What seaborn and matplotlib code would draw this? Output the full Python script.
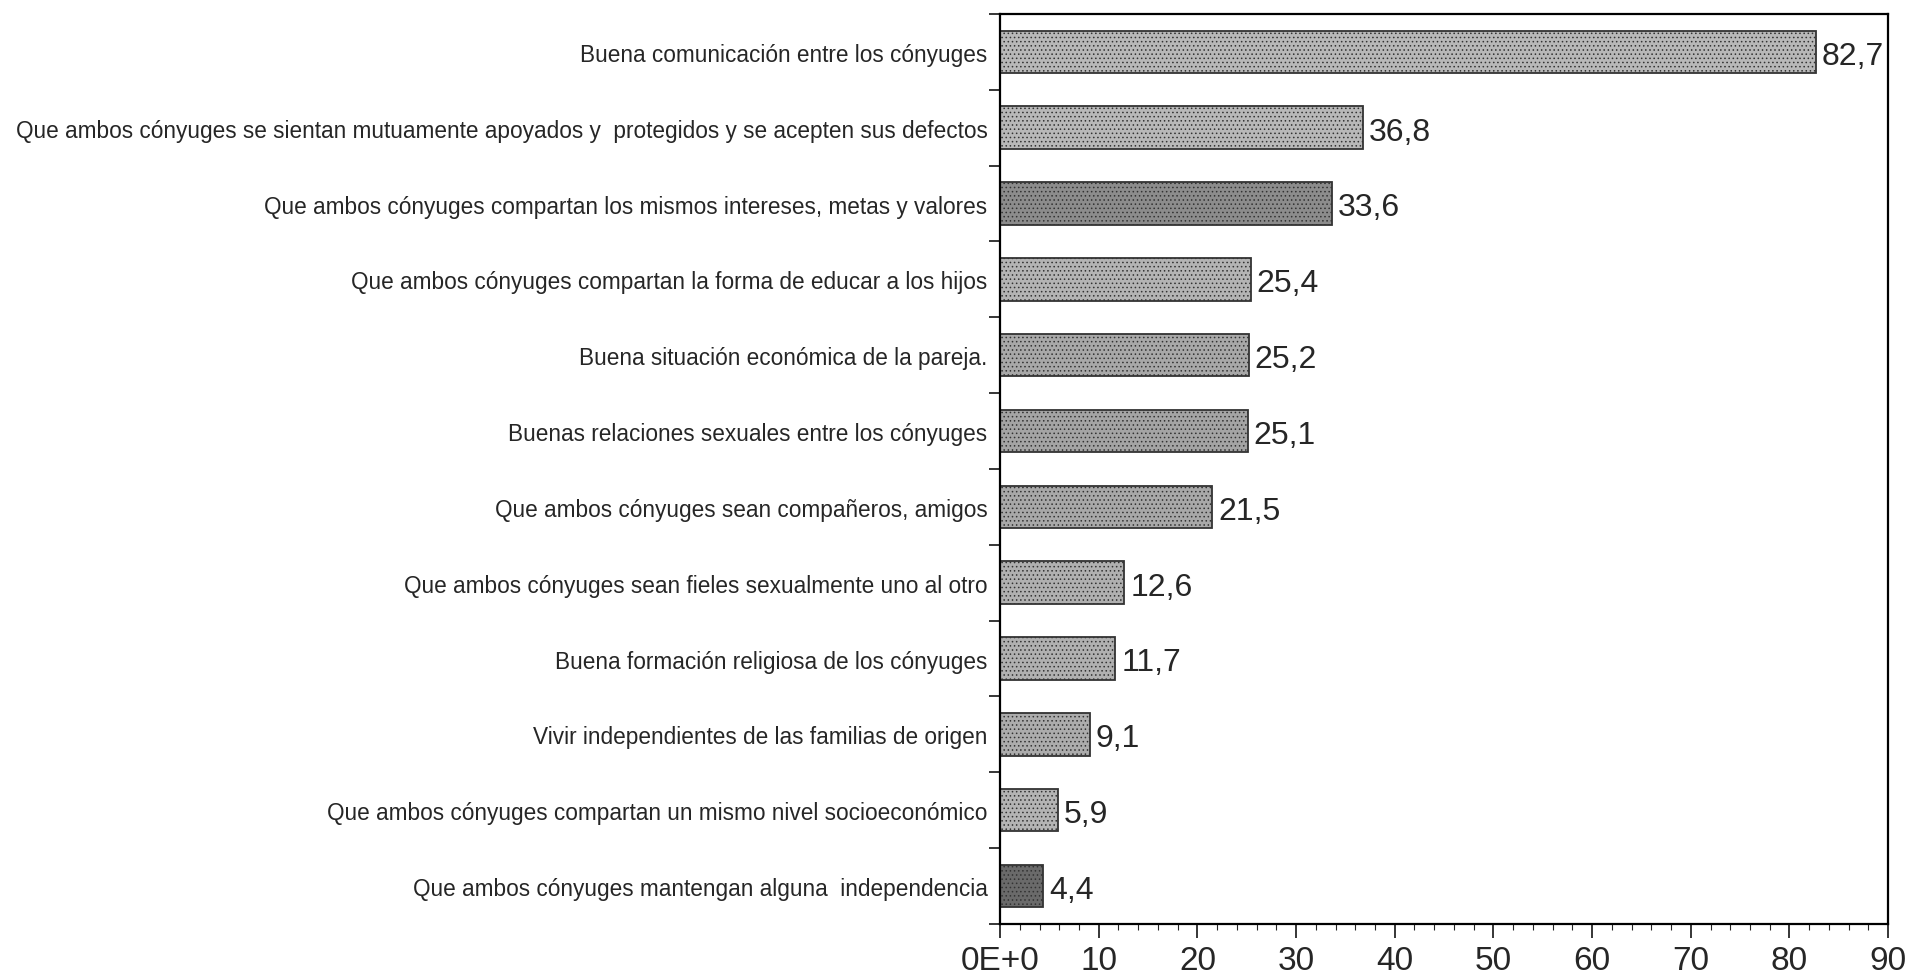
import numpy as np
import pandas as pd
import matplotlib
matplotlib.use('Agg')
import matplotlib.pyplot as plt
import seaborn as sns

categories = [
    'Buena comunicación entre los cónyuges',
    'Que ambos cónyuges se sientan mutuamente apoyados y  protegidos y se acepten sus defectos',
    'Que ambos cónyuges compartan los mismos intereses, metas y valores',
    'Que ambos cónyuges compartan la forma de educar a los hijos',
    'Buena situación económica de la pareja.',
    'Buenas relaciones sexuales entre los cónyuges',
    'Que ambos cónyuges sean compañeros, amigos',
    'Que ambos cónyuges sean fieles sexualmente uno al otro',
    'Buena formación religiosa de los cónyuges',
    'Vivir independientes de las familias de origen',
    'Que ambos cónyuges compartan un mismo nivel socioeconómico',
    'Que ambos cónyuges mantengan alguna  independencia',
]
values = [82.7, 36.8, 33.6, 25.4, 25.2, 25.1, 21.5, 12.6, 11.7, 9.1, 5.9, 4.4]
x_ticks = [0, 10, 20, 30, 40, 50, 60, 70, 80, 90]
x_tick_labels = ['0E+0', '10', '20', '30', '40', '50', '60', '70', '80', '90']

# grey shades per bar, the scanned original has a few darker ones
bar_colors = ['#b8b8b8', '#b8b8b8', '#8c8c8c', '#b4b4b4', '#a8a8a8', '#a4a4a4',
              '#a8a8a8', '#b0b0b0', '#b0b0b0', '#acacac', '#b4b4b4', '#6a6a6a']

sns.set_style('white')
plt.rcParams['font.family'] = ['Liberation Sans Narrow', 'Liberation Sans', 'DejaVu Sans']
plt.rcParams['hatch.color'] = '#6e6e6e'
plt.rcParams['hatch.linewidth'] = 0.6

df = pd.DataFrame({'factor': categories, 'pct': values})

fig = plt.figure(figsize=(19.07, 9.78), dpi=100)
ax = fig.add_axes([0.5244, 0.0542, 0.4657, 0.9305])

sns.barplot(data=df, x='pct', y='factor', orient='h', hue='factor',
            palette=bar_colors, legend=False,
            width=0.56, edgecolor='#333333', linewidth=1.3, ax=ax,
            saturation=1)
for p in ax.patches:
    p.set_hatch('....')

for i, v in enumerate(values):
    ax.text(v + 0.6, i + 0.05, f'{v:.1f}'.replace('.', ','), va='center', ha='left',
            fontsize=23, family=['Liberation Sans', 'DejaVu Sans'])

ax.set_xlim(0, 90)
ax.set_ylim(len(categories) - 0.5, -0.5)
ax.set_xticks(x_ticks)
ax.set_xticklabels(x_tick_labels, fontsize=24)
ax.set_xticks(np.arange(0, 91, 2), minor=True)
ax.tick_params(axis='x', which='major', direction='out', length=10, width=1.3, bottom=True, pad=5)
ax.tick_params(axis='x', which='minor', direction='out', length=4, width=0.8, bottom=True)

# category ticks sit between bars
ax.set_yticks(np.arange(len(categories)))
ax.set_yticklabels(categories, fontsize=16.3)
ax.set_yticks(np.arange(-0.5, len(categories), 1), minor=True)
ax.tick_params(axis='y', which='major', length=0, pad=9)
ax.tick_params(axis='y', which='minor', direction='out', length=8, width=1.3, left=True)

ax.set_xlabel('')
ax.set_ylabel('')
for s in ax.spines.values():
    s.set_visible(True)
    s.set_color('black')
    s.set_linewidth(1.6)

plt.savefig('out.png', dpi=100)
